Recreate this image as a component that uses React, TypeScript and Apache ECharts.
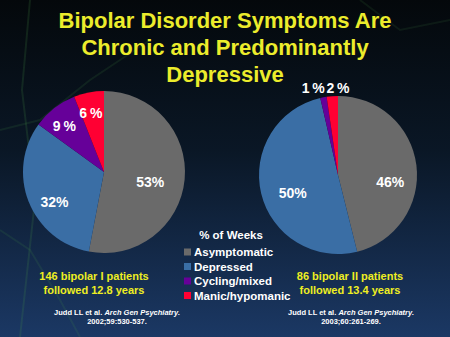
import React, { useEffect, useRef } from "react";
import * as echarts from "echarts";

const categories = ["Asymptomatic", "Depressed", "Cycling/mixed", "Manic/hypomanic"];
const colors = ["#6a6a6a", "#3a6ea5", "#660099", "#ff0033"];
const bipolarIValues = [53, 32, 9, 6];
const bipolarIIValues = [46.1, 50.3, 1.3, 2.3];
const titleLines = ["Bipolar Disorder Symptoms Are", "Chronic and Predominantly", "Depressive"];
const legendTitle = "% of Weeks";
const leftCaption = ["146 bipolar I patients", "followed 12.8 years"];
const rightCaption = ["86 bipolar II patients", "followed 13.4 years"];
const leftCitation = ["Judd LL et al. ", "Arch Gen Psychiatry.", "2002;59:530-537."];
const rightCitation = ["Judd LL et al. ", "Arch Gen Psychiatry.", "2003;60:261-269."];

// label nudges (pixels) for each slice label
const leftOffsets = [[3, 6], [-9, 14], [-13, -12], [-5, -16]];
const rightOffsets = [[10, 12], [-4, 8], [-17, -45], [3, -45]];

const fmt = (v: number) => {
  const r = Math.round(v);
  return r < 10 ? `${r}\u2009%` : `${r}%`;
};

export default function App() {
  const ref = useRef<HTMLDivElement>(null);
  useEffect(() => {
    if (!ref.current) return;
    const chart = echarts.init(ref.current, null, { renderer: "svg" });
    const mkData = (vals: number[], offs: number[][]) =>
      vals.map((v, i) => ({
        name: categories[i],
        value: v,
        itemStyle: { color: colors[i] },
        label: { offset: offs[i] },
      }));
    const pieBase = {
      type: "pie",
      startAngle: 90,
      clockwise: true,
      avoidLabelOverlap: false,
      labelLayout: { hideOverlap: false },
      label: {
        show: true,
        position: "inside",
        color: "#ffffff",
        fontFamily: "Arial, 'Liberation Sans', sans-serif",
        fontWeight: "bold",
        fontSize: 14,
        formatter: (p: any) => fmt(p.value),
      },
      labelLine: { show: false },
      itemStyle: { borderWidth: 0 },
      emphasis: { disabled: true },
    };
    const citeRich = {
      n: { color: "#ffffff", fontSize: 7.5, fontFamily: "Arial, 'Liberation Sans', sans-serif", lineHeight: 9 },
      i: { color: "#ffffff", fontSize: 7.5, fontStyle: "italic", fontFamily: "Arial, 'Liberation Sans', sans-serif", lineHeight: 9 },
    };
    const capStyle = {
      color: "#eeee22",
      fontSize: 11,
      fontWeight: "bold",
      fontFamily: "Arial, 'Liberation Sans', sans-serif",
      lineHeight: 14,
    };
    chart.setOption({
      animation: false,
      backgroundColor: {
        type: "linear",
        x: 0, y: 0, x2: 0, y2: 1,
        colorStops: [
          { offset: 0, color: "#04080b" },
          { offset: 0.45, color: "#0a1726" },
          { offset: 1, color: "#1b3864" },
        ],
      },
      graphic: [
        { type: "polyline", silent: true, shape: { points: [[30, 0], [22, 90], [35, 200], [20, 337]] }, style: { stroke: "rgba(70,150,70,0.18)", lineWidth: 2, fill: "none" } },
        { type: "polyline", silent: true, shape: { points: [[0, 130], [40, 120], [90, 80], [150, 40]] }, style: { stroke: "rgba(70,150,70,0.14)", lineWidth: 2, fill: "none" } },
        { type: "polyline", silent: true, shape: { points: [[0, 230], [30, 250], [60, 300], [80, 337]] }, style: { stroke: "rgba(70,150,70,0.14)", lineWidth: 2, fill: "none" } },
        { type: "polyline", silent: true, shape: { points: [[360, 0], [400, 30], [450, 20]] }, style: { stroke: "rgba(70,150,70,0.12)", lineWidth: 2, fill: "none" } },
      ],
      title: [
        {
          text: titleLines.join("\n"),
          left: "center",
          top: 2,
          textStyle: {
            color: "#ecec2c",
            fontSize: 22,
            fontWeight: "bold",
            fontFamily: "Arial, 'Liberation Sans', sans-serif",
            lineHeight: 27,
          },
        },
        {
          text: legendTitle,
          left: 226,
          top: 224,
          textAlign: "center",
          textStyle: { color: "#ffffff", fontSize: 11.5, fontWeight: "bold", fontFamily: "Arial, 'Liberation Sans', sans-serif" },
        },
        { text: leftCaption.join("\n"), left: 89, top: 264, textAlign: "center", textStyle: capStyle },
        { text: rightCaption.join("\n"), left: 345, top: 264, textAlign: "center", textStyle: capStyle },
        {
          text: `{n|${leftCitation[0]}}{i|${leftCitation[1]}}\n{n|${leftCitation[2]}}`,
          left: 112,
          top: 303,
          textAlign: "center",
          textStyle: { rich: citeRich, align: "center" },
        },
        {
          text: `{n|${rightCitation[0]}}{i|${rightCitation[1]}}\n{n|${rightCitation[2]}}`,
          left: 346,
          top: 303,
          textAlign: "center",
          textStyle: { rich: citeRich, align: "center" },
        },
      ],
      legend: {
        orient: "vertical",
        left: 179,
        top: 241,
        itemWidth: 7,
        itemHeight: 7,
        itemGap: 2.5,
        icon: "rect",
        selectedMode: false,
        data: categories,
        textStyle: {
          color: "#ffffff",
          fontSize: 11.5,
          fontWeight: "bold",
          fontFamily: "Arial, 'Liberation Sans', sans-serif",
          padding: [0, 0, 0, -2],
        },
      },
      series: [
        { ...pieBase, name: "Bipolar I", center: [104, 172], radius: 81, data: mkData(bipolarIValues, leftOffsets) },
        { ...pieBase, name: "Bipolar II", center: [338, 175], radius: 79, data: mkData(bipolarIIValues, rightOffsets) },
      ],
    });
    return () => chart.dispose();
  }, []);
  return <div ref={ref} style={{ width: 450, height: 337, position: "absolute", left: 0, top: 0 }} />;
}
